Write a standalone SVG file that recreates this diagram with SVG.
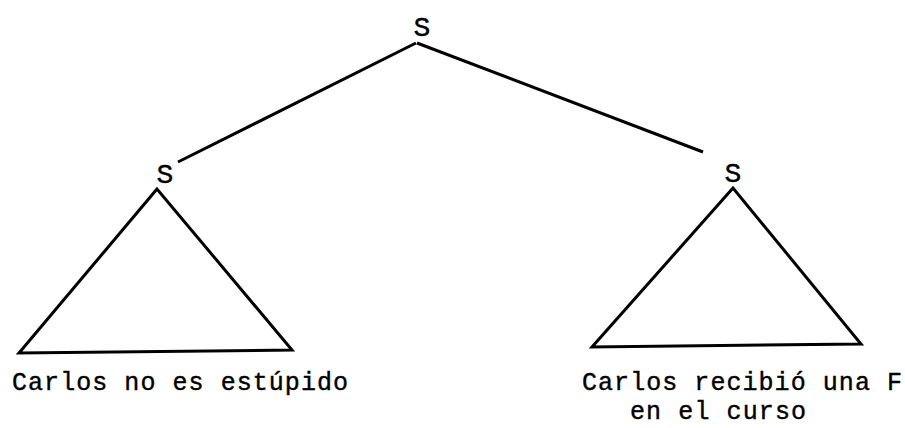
<svg xmlns="http://www.w3.org/2000/svg" width="905" height="428" viewBox="0 0 905 428">
<style>
.t{font-family:"Liberation Mono","DejaVu Sans Mono",monospace;fill:#000;stroke:#000;stroke-width:0.4}
.s{font-size:28px;text-anchor:middle}
.lbl{font-size:25px}
.l{stroke:#000;stroke-width:3;fill:none;stroke-linejoin:miter}
</style>
<rect width="905" height="428" fill="#fff"/>
<g id="connectors">
<line class="l" x1="178" y1="162" x2="416" y2="43"/>
<line class="l" x1="417" y1="43" x2="703" y2="152"/>
</g>
<g id="root"><text class="t s" x="422" y="36">S</text></g>
<g id="left-s"><text class="t s" x="165" y="183">S</text></g>
<g id="right-s"><text class="t s" x="733" y="182">S</text></g>
<g id="left-tri">
<polygon class="l" points="157,189 19,353 292,350"/>
<text class="t lbl" x="12" y="390" textLength="336" lengthAdjust="spacing">Carlos no es estúpido</text>
</g>
<g id="right-tri">
<polygon class="l" points="733,188 592,347 861,344"/>
<text class="t lbl" x="582" y="390" textLength="320" lengthAdjust="spacing">Carlos recibió una F</text>
<text class="t lbl" x="630" y="419" textLength="176" lengthAdjust="spacing">en el curso</text>
</g>
</svg>
